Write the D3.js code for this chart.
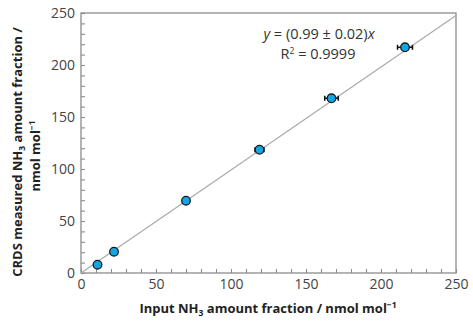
<!DOCTYPE html>
<html><head><meta charset="utf-8">
<script src="https://cdn.jsdelivr.net/npm/d3@7"></script>
<style>
body{margin:0;background:#fff;}
svg{display:block;font-family:"Open Sans","Noto Sans",sans-serif;}
</style></head>
<body><svg id="c" width="473" height="322"></svg>
<script>
const inputX = [11, 22, 70, 119, 167, 216];
const measuredY = [8, 20.5, 69.5, 118.5, 168, 217];
const xErr = [0.8, 0.8, 1, 3, 4.5, 5];
const fitSlope = 0.99;
const xTicks = [0, 50, 100, 150, 200, 250];
const yTicks = [0, 50, 100, 150, 200, 250];
const minorTicks = d3.range(0, 251, 10);

const svg = d3.select("#c");
const L = 81, R = 456, T = 13, B = 273;
const x = d3.scaleLinear().domain([0, 250]).range([L, R]);
const y = d3.scaleLinear().domain([0, 250]).range([B, T]);
const axisCol = "#8c8c8c";

svg.append("rect").attr("x", L).attr("y", T).attr("width", R - L).attr("height", B - T)
  .attr("fill", "none").attr("stroke", axisCol).attr("stroke-width", 1.3);

const xa = svg.append("g").attr("transform", `translate(0,${B})`)
  .call(d3.axisBottom(x).tickValues(minorTicks).tickSize(-4).tickFormat(""));
xa.select(".domain").remove();
xa.selectAll("line").attr("stroke", axisCol).attr("stroke-width", 1.1);
const xl = svg.append("g").attr("transform", `translate(0,${B})`)
  .call(d3.axisBottom(x).tickValues(xTicks).tickSize(0).tickPadding(6));
xl.select(".domain").remove();
xl.selectAll("text").attr("font-size", 14).attr("fill", "#444").attr("font-family", "Open Sans, sans-serif");

const ya = svg.append("g").attr("transform", `translate(${L},0)`)
  .call(d3.axisLeft(y).tickValues(minorTicks).tickSize(-4).tickFormat(""));
ya.select(".domain").remove();
ya.selectAll("line").attr("stroke", axisCol).attr("stroke-width", 1.1);
const yl = svg.append("g").attr("transform", `translate(${L},0)`)
  .call(d3.axisLeft(y).tickValues(yTicks).tickSize(0).tickPadding(6));
yl.select(".domain").remove();
yl.selectAll("text").attr("font-size", 14).attr("fill", "#444").attr("font-family", "Open Sans, sans-serif");

svg.append("line").attr("x1", x(0)).attr("y1", y(0)).attr("x2", x(250)).attr("y2", y(250 * fitSlope))
  .attr("stroke", "#aaa").attr("stroke-width", 1.2);

const pts = inputX.map((v, i) => ({x: v, y: measuredY[i], e: xErr[i]}));
const eb = svg.append("g");
pts.forEach(p => {
  eb.append("line").attr("x1", x(p.x - p.e)).attr("x2", x(p.x + p.e)).attr("y1", y(p.y)).attr("y2", y(p.y))
    .attr("stroke", "#111").attr("stroke-width", 1.5);
  [p.x - p.e, p.x + p.e].forEach(v => eb.append("line").attr("x1", x(v)).attr("x2", x(v))
    .attr("y1", y(p.y) - 2.5).attr("y2", y(p.y) + 2.5).attr("stroke", "#111").attr("stroke-width", 1.5));
});
svg.append("g").selectAll("circle").data(pts).join("circle")
  .attr("cx", d => x(d.x)).attr("cy", d => y(d.y)).attr("r", 4.3)
  .attr("fill", "#12a6e4").attr("stroke", "#1a1a1a").attr("stroke-width", 1.3);

const eq = svg.append("text").attr("x", 319).attr("y", 39).attr("text-anchor", "middle")
  .attr("font-size", 14.5).attr("fill", "#333");
eq.append("tspan").attr("font-style", "italic").text("y");
eq.append("tspan").text(" = (0.99 ± 0.02)");
eq.append("tspan").attr("font-style", "italic").text("x");
const r2 = svg.append("text").attr("x", 318).attr("y", 59).attr("text-anchor", "middle")
  .attr("font-size", 14.5).attr("fill", "#333");
r2.append("tspan").text("R");
r2.append("tspan").attr("font-size", 8.5).attr("dy", -5).text("2");
r2.append("tspan").attr("dy", 5).text(" = 0.9999");

const xt = svg.append("text").attr("x", 268).attr("y", 313).attr("text-anchor", "middle")
  .attr("font-size", 13).attr("font-weight", "bold").attr("fill", "#222");
xt.append("tspan").text("Input NH");
xt.append("tspan").attr("font-size", 8.5).attr("dy", 3).text("3");
xt.append("tspan").attr("dy", -3).text(" amount fraction / nmol mol");
xt.append("tspan").attr("font-size", 8.5).attr("dy", -5).text("−1");

const yt = svg.append("g").attr("transform", "translate(0,152) rotate(-90)");
const y1 = yt.append("text").attr("x", 0).attr("y", 22).attr("text-anchor", "middle")
  .attr("font-size", 13).attr("font-weight", "bold").attr("fill", "#222");
y1.append("tspan").text("CRDS measured NH");
y1.append("tspan").attr("font-size", 8.5).attr("dy", 3).text("3");
y1.append("tspan").attr("dy", -3).text(" amount fraction /");
const y2 = yt.append("text").attr("x", -4).attr("y", 40).attr("text-anchor", "middle")
  .attr("font-size", 13).attr("font-weight", "bold").attr("fill", "#222");
y2.append("tspan").text("nmol mol");
y2.append("tspan").attr("font-size", 8.5).attr("dy", -5).text("−1");
</script></body></html>
